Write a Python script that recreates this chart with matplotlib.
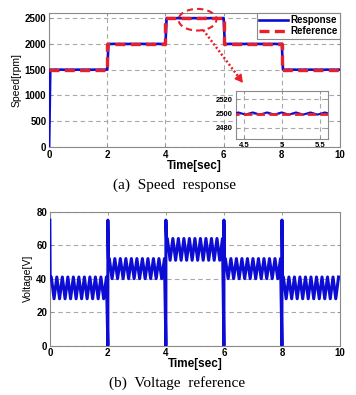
import numpy as np
import matplotlib
matplotlib.use("Agg")
import matplotlib.pyplot as plt
from matplotlib.patches import Ellipse

# ---------------- data ----------------
step_times = [0, 2, 4, 6, 8, 10]
ref_speed = [1500, 2000, 2500, 2000, 1500]          # rpm per segment
speed_ripple = 1.5                                   # rpm (seen in zoom inset)
ripple_period = 0.19                                 # s

volt_low = [28, 40, 51, 40, 28]                      # V trough per segment
volt_high = [41, 52, 64, 52, 41]                     # V peak per segment
volt_spike = 75                                      # V spike at each step

speed_xticks = [0, 2, 4, 6, 8, 10]
speed_yticks = [0, 500, 1000, 1500, 2000, 2500]
volt_yticks = [0, 20, 40, 60, 80]
inset_xticks = [4.5, 5, 5.5]
inset_yticks = [2480, 2500, 2520]

BLUE = "#0c0cd4"
RED = "#e8202a"
GRID = "#a8a8a8"
EDGE = "#8a8a8a"

# ---------------- build traces from the read values ----------------
def zigzag(t0, t1, lo, hi, start_hi=True):
    n = int((t1 - t0) / (ripple_period / 2))
    ts = t0 + np.arange(n + 1) * (ripple_period / 2)
    vals = [(hi if (i % 2 == 0) == start_hi else lo) for i in range(n + 1)]
    return list(ts), vals

# speed response
sp_t, sp_v = [0.0], [0.0]
prev = 0.0
for k in range(len(ref_speed)):
    t0, t1 = step_times[k], step_times[k + 1]
    tt, vv = zigzag(t0 + 0.04, t1, ref_speed[k] - speed_ripple, ref_speed[k] + speed_ripple)
    sp_t += [t0] + tt
    sp_v += [prev] + vv
    prev = vv[-1]
sp_t.append(step_times[-1]); sp_v.append(ref_speed[-1])

ref_t, ref_v = [], []
for k in range(len(ref_speed)):
    ref_t += [step_times[k], step_times[k + 1]]
    ref_v += [ref_speed[k], ref_speed[k]]

# voltage
vt, vv_ = [], []
for k in range(len(volt_low)):
    t0, t1 = step_times[k], step_times[k + 1]
    tt, vals = zigzag(t0 + 0.05, t1 - 0.01, volt_low[k], volt_high[k], start_hi=True)
    if k == 0:
        vt += [t0, t0 + 0.01, t0 + 0.02]
        vv_ += [volt_spike, volt_high[k], volt_high[k]]
    else:
        vt += [t0, t0, t0 + 0.02]
        vv_ += [0, volt_spike, volt_high[k]]
    vt += tt
    vv_ += vals

# ---------------- figure ----------------
fig = plt.figure(figsize=(3.56, 3.95), dpi=100)

def style_axes(ax, xt, yt, fs=7):
    for s in ax.spines.values():
        s.set_color(EDGE)
        s.set_linewidth(0.8)
    ax.set_xticks(xt)
    ax.set_yticks(yt)
    ax.tick_params(direction="in", length=2.5, width=0.6, color=EDGE,
                   top=True, right=True, pad=2)
    for lab in ax.get_xticklabels() + ax.get_yticklabels():
        lab.set_fontfamily("Liberation Sans")
        lab.set_fontweight("bold")
        lab.set_fontsize(fs)
    ax.grid(True, color=GRID, linestyle=(0, (4, 3)), linewidth=0.8)
    ax.set_axisbelow(True)

# top: speed
ax1 = fig.add_axes([0.138, 0.628, 0.817, 0.339])
ax1.plot(sp_t, sp_v, color=BLUE, lw=1.9, label="Response", zorder=3)
ax1.plot(ref_t, ref_v, color=RED, lw=2.4, dashes=(3, 1.6), label="Reference", zorder=4)
ax1.set_xlim(0, 10)
ax1.set_ylim(0, 2600)
style_axes(ax1, speed_xticks, speed_yticks)
ax1.set_ylabel("Speed[rpm]", family="Liberation Sans", size=7.5, labelpad=2)
ax1.set_xlabel("Time[sec]", family="Liberation Sans", weight="bold", size=8.5, labelpad=0)
leg = ax1.legend(loc="upper right", borderaxespad=0, fancybox=False,
                 prop=dict(family="Liberation Sans", weight="bold", size=7),
                 handlelength=3.0, handletextpad=0.2, borderpad=0.25,
                 labelspacing=0.1, framealpha=1)
leg.get_frame().set_edgecolor(EDGE)
leg.get_frame().set_linewidth(0.8)

ell = Ellipse((5.1, 2470), 1.3, 420, fill=False, edgecolor=RED, lw=1.5,
              linestyle=(0, (3, 2)), clip_on=False, zorder=6)
ax1.add_patch(ell)
ax1.plot([5.3, 6.55], [2270, 1330], color=RED, lw=1.8, dashes=(0.8, 0.9),
         clip_on=False, zorder=6)
ax1.annotate("", xy=(6.72, 1200), xytext=(6.5, 1365),
             arrowprops=dict(arrowstyle="-|>,head_length=0.45,head_width=0.25",
                             color=RED, lw=1.2), zorder=6)

# inset
axi = fig.add_axes([0.663, 0.648, 0.258, 0.122])
axi.plot(sp_t, sp_v, color=BLUE, lw=1.5, zorder=3)
axi.plot(ref_t, ref_v, color=RED, lw=2.0, dashes=(3, 1.6), zorder=4)
axi.set_xlim(4.39, 5.6)
axi.set_ylim(2464, 2532)
style_axes(axi, inset_xticks, inset_yticks, fs=5.5)
axi.set_xticklabels(["4.5", "5", "5.5"])
axi.set_facecolor("white")

# bottom: voltage
ax2 = fig.add_axes([0.140, 0.125, 0.815, 0.339])
ax2.plot(vt, vv_, color=BLUE, lw=2.2, zorder=3)
ax2.set_xlim(0, 10)
ax2.set_ylim(0, 80)
style_axes(ax2, speed_xticks, volt_yticks)
ax2.grid(False, axis="x")
ax2.set_ylabel("Voltage[V]", family="Liberation Sans", size=7.5, labelpad=2)
ax2.set_xlabel("Time[sec]", family="Liberation Sans", weight="bold", size=8.5, labelpad=0)

fig.text(0.49, 0.532, "(a)  Speed  response", family="Liberation Serif",
         size=11, ha="center", va="center")
fig.text(0.497, 0.030, "(b)  Voltage  reference", family="Liberation Serif",
         size=11, ha="center", va="center")

fig.savefig("out.png", dpi=100)
